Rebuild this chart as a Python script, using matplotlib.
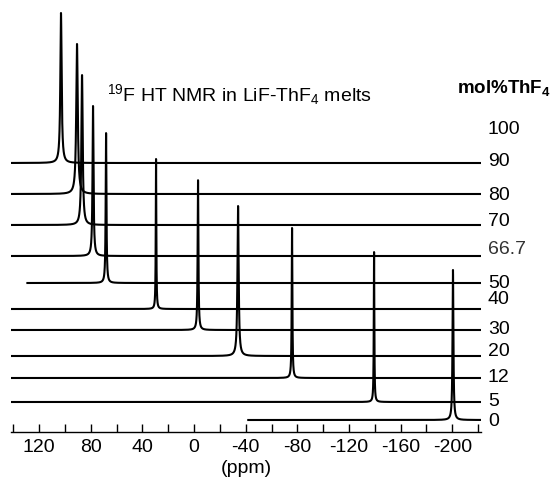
import numpy as np
import matplotlib
matplotlib.use("Agg")
import matplotlib.pyplot as plt

plt.rcParams['font.family'] = ['Liberation Sans', 'DejaVu Sans']
plt.rcParams['mathtext.fontset'] = 'custom'
plt.rcParams['mathtext.rm'] = 'Liberation Sans'
plt.rcParams['mathtext.it'] = 'Liberation Sans:italic'
plt.rcParams['mathtext.bf'] = 'Liberation Sans:bold'

# mol% ThF4 for each spectrum (top to bottom) and the peak
compositions = ['90', '80', '70', '66.7', '50', '40', '30', '20', '12', '5', '0']
peak_ppm = [103.0, 90.6, 86.7, 78.2, 68.1, 29.4, -3.1, -34.1, -75.9, -139.4, -200.5]
peak_width = [0.6, 0.7, 0.6, 0.45, 0.35, 0.25, 0.35, 0.55, 0.3, 0.25, 0.4]
start_ppm = [141.7, 141.7, 141.7, 141.7, 129.0, 141.7, 141.7, 141.7, 141.7, 141.7, -42.0]
end_ppm = -222.2

# right hand labels (includes 100, which has no trace)
side_labels = ['100', '90', '80', '70', '66.7', '50', '40', '30', '20', '12', '5', '0']

# layout (pixels from the top of the figure)
baseline_px = [163, 194, 225, 256, 283, 309, 330, 356, 378, 402, 420]
label_px = [129, 161, 196, 221, 250, 283, 299, 330, 352, 378, 402, 422]
spine_px = 432
W, H = 559, 484
peak_h = 150

fig = plt.figure(figsize=(W / 100, H / 100), dpi=100)
ax = fig.add_axes([11 / W, (H - spine_px) / H, 470 / W, spine_px / H])

for i in range(len(compositions)):
    x = np.linspace(start_ppm[i], end_ppm, 12000)
    y = 1.0 / (1.0 + ((x - peak_ppm[i]) / peak_width[i]) ** 2)
    off = spine_px - baseline_px[i]
    ax.plot(x, off + peak_h * y, color='black', lw=1.5, solid_joinstyle='round')

ax.set_xlim(141.7, -222.2)
ax.set_ylim(0, spine_px)

ticks = np.arange(140, -221, -20)
ax.set_xticks(ticks)
ax.set_xticklabels([str(t) if t % 40 == 0 else '' for t in ticks])
ax.tick_params(axis='x', direction='in', length=6, width=1, labelsize=14, pad=5)
ax.set_yticks([])
for s in ['left', 'top', 'right']:
    ax.spines[s].set_visible(False)
ax.spines['bottom'].set_linewidth(1)
ax.set_xlabel('(ppm)', fontsize=14, labelpad=3)

for lab, yp in zip(side_labels, label_px):
    fig.text(488 / W, 1 - yp / H, lab, fontsize=14, va='center', ha='left',
             color='#333333' if lab == '66.7' else 'black')

fig.text(457 / W, 1 - 88 / H, r'mol%ThF$_\mathbf{4}$', fontsize=13.5,
         fontweight='bold', va='center', ha='left')
fig.text(107 / W, 1 - 95 / H, r'$^{19}$F HT NMR in LiF-ThF$_4$ melts',
         fontsize=14, va='center', ha='left')

fig.savefig('out.png', dpi=100)
